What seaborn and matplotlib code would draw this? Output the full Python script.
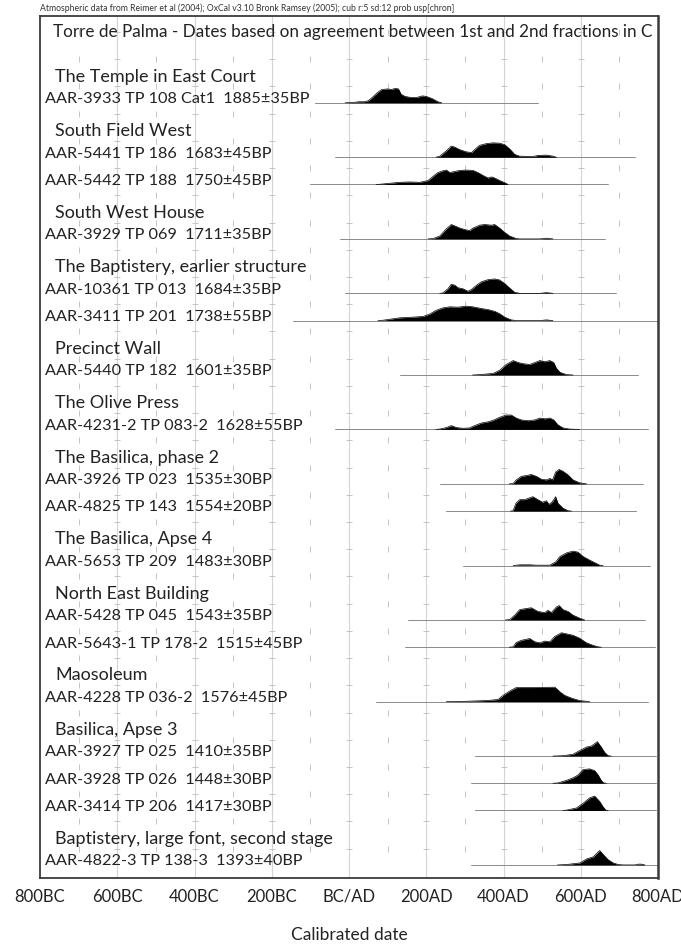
import numpy as np
import matplotlib.pyplot as plt
import seaborn as sns

# DATA - calibrated probability distributions (year AD, relative prob)
aar3933_yr = [-10, 15, 25, 40, 50, 60, 75, 85, 100, 110, 120, 128, 135, 145, 160, 175, 190, 200, 215, 230, 240]
aar3933_p = [0, 0.5, 1, 1, 2, 5, 10, 12.5, 13, 12.5, 13.5, 13, 8, 6, 5, 5, 6.5, 6, 4, 1, 0]

aar5441_yr = [225, 235, 252, 265, 274, 287, 304, 317, 325, 338, 356, 373, 390, 403, 416, 429, 442, 476, 489, 511, 528, 537]
aar5441_p = [0, 3, 18, 31, 28, 21, 15, 13, 21, 33, 38, 40, 39, 35, 23, 8, 3, 2, 5, 6, 3, 0]

aar5442_yr = [70, 84, 131, 157, 183, 205, 218, 230, 243, 252, 261, 269, 287, 304, 321, 334, 347, 360, 369, 377, 390, 403, 412]
aar5442_p = [0, 1, 6, 7, 6, 11, 23, 33, 38, 40, 33, 35, 39, 40, 39, 33, 25, 18, 21, 18, 11, 5, 0]

aar3929_yr = [205, 218, 235, 252, 265, 274, 287, 300, 312, 321, 338, 351, 369, 377, 390, 403, 416, 433, 442, 495, 511, 528]
aar3929_p = [0, 1, 8, 28, 40, 36, 30, 26, 23, 30, 38, 40, 38, 40, 30, 18, 8, 1, 0, 0, 2, 0]

aar10361_yr = [235, 243, 256, 265, 274, 282, 295, 308, 317, 330, 343, 360, 377, 390, 403, 416, 429, 442, 494, 511, 528]
aar10361_p = [0, 1, 13, 26, 23, 16, 13, 6, 11, 23, 33, 39, 41, 38, 28, 15, 3, 0, 0, 2, 0]

aar3411_yr = [75, 88, 131, 166, 192, 209, 226, 243, 261, 282, 304, 321, 343, 360, 377, 390, 403, 420, 433, 494, 511, 528]
aar3411_p = [0, 1, 8, 10, 12, 19, 30, 37, 40, 39, 42, 40, 35, 32, 27, 20, 10, 2, 0, 0, 2, 0]

aar5440_yr = [320, 338, 373, 390, 407, 425, 438, 451, 468, 481, 494, 507, 520, 530, 537, 546, 563, 580]
aar5440_p = [0, 1, 4, 12, 27, 37, 32, 29, 27, 32, 37, 34, 37, 32, 17, 7, 1, 0]

aar42312_yr = [225, 235, 252, 265, 278, 295, 312, 325, 343, 360, 373, 390, 407, 420, 433, 446, 464, 481, 494, 507, 520, 530, 541, 554, 571, 597]
aar42312_p = [0, 1, 5, 10, 5, 3, 4, 10, 17, 20, 24, 32, 38, 38, 30, 25, 23, 25, 30, 28, 30, 25, 12, 4, 1, 0]

aar3926_yr = [415, 425, 433, 446, 459, 472, 485, 498, 511, 520, 527, 535, 544, 554, 567, 580, 597, 615]
aar3926_p = [0, 1, 11, 21, 23, 26, 21, 13, 11, 15, 11, 33, 40, 35, 25, 11, 3, 0]

aar4825_yr = [418, 425, 432, 442, 455, 468, 476, 489, 501, 511, 518, 527, 535, 541, 554, 567, 576]
aar4825_p = [0, 1, 21, 31, 31, 36, 39, 31, 24, 28, 18, 26, 39, 21, 8, 1, 0]

aar5653_yr = [425, 442, 468, 485, 520, 535, 546, 563, 580, 593, 606, 623, 636, 649, 658]
aar5653_p = [0, 2, 2, 1, 1, 10, 25, 35, 40, 37, 25, 15, 8, 1, 0]

aar5428_yr = [405, 416, 429, 442, 459, 472, 489, 507, 515, 524, 537, 544, 554, 567, 580, 597, 610]
aar5428_p = [0, 1, 13, 28, 31, 33, 23, 20, 26, 20, 35, 39, 28, 23, 13, 5, 0]

aar56431_yr = [415, 425, 433, 446, 468, 481, 494, 507, 520, 533, 550, 563, 580, 597, 615, 632, 645, 653]
aar56431_p = [0, 1, 13, 19, 24, 15, 12, 17, 15, 30, 40, 37, 33, 25, 12, 5, 1, 0]

aar4228_yr = [252, 304, 356, 386, 399, 416, 433, 476, 533, 546, 558, 576, 597, 623]
aar4228_p = [0, 1, 3, 6, 18, 30, 40, 40, 41, 28, 18, 10, 3, 0]

aar3927_yr = [528, 554, 580, 597, 615, 628, 643, 653, 662, 671, 679]
aar3927_p = [0, 1, 5, 15, 25, 28, 40, 25, 10, 1, 0]

aar3928_yr = [528, 541, 563, 580, 593, 606, 623, 636, 645, 653, 659, 666]
aar3928_p = [0, 1, 8, 15, 23, 38, 40, 35, 23, 8, 1, 0]

aar3414_yr = [554, 563, 589, 606, 623, 636, 649, 658, 665, 671]
aar3414_p = [0, 1, 7, 20, 35, 40, 25, 10, 1, 0]

aar48223_yr = [540, 563, 598, 615, 632, 649, 658, 671, 684, 697, 710, 740, 749, 757, 766]
aar48223_p = [0, 1, 5, 15, 20, 36, 26, 13, 5, 1, 0, 0, 2, 2, 0]

# LABELS
group_labels = ["The Temple in East Court", "South Field West", "South West House",
                "The Baptistery, earlier structure", "Precinct Wall", "The Olive Press",
                "The Basilica, phase 2", "The Basilica, Apse 4", "North East Building",
                "Maosoleum", "Basilica, Apse 3", "Baptistery, large font, second stage"]
group_rows = [1, 3, 6, 8, 11, 13, 15, 18, 20, 23, 25, 29]

date_labels = ["AAR-3933 TP 108 Cat1  1885±35BP", "AAR-5441 TP 186  1683±45BP",
               "AAR-5442 TP 188  1750±45BP", "AAR-3929 TP 069  1711±35BP",
               "AAR-10361 TP 013  1684±35BP", "AAR-3411 TP 201  1738±55BP",
               "AAR-5440 TP 182  1601±35BP", "AAR-4231-2 TP 083-2  1628±55BP",
               "AAR-3926 TP 023  1535±30BP", "AAR-4825 TP 143  1554±20BP",
               "AAR-5653 TP 209  1483±30BP", "AAR-5428 TP 045  1543±35BP",
               "AAR-5643-1 TP 178-2  1515±45BP", "AAR-4228 TP 036-2  1576±45BP",
               "AAR-3927 TP 025  1410±35BP", "AAR-3928 TP 026  1448±30BP",
               "AAR-3414 TP 206  1417±30BP", "AAR-4822-3 TP 138-3  1393±40BP"]
date_rows = [2, 4, 5, 7, 9, 10, 12, 14, 16, 17, 19, 21, 22, 24, 26, 27, 28, 30]
date_years = [aar3933_yr, aar5441_yr, aar5442_yr, aar3929_yr, aar10361_yr, aar3411_yr,
              aar5440_yr, aar42312_yr, aar3926_yr, aar4825_yr, aar5653_yr, aar5428_yr,
              aar56431_yr, aar4228_yr, aar3927_yr, aar3928_yr, aar3414_yr, aar48223_yr]
date_probs = [aar3933_p, aar5441_p, aar5442_p, aar3929_p, aar10361_p, aar3411_p,
              aar5440_p, aar42312_p, aar3926_p, aar4825_p, aar5653_p, aar5428_p,
              aar56431_p, aar4228_p, aar3927_p, aar3928_p, aar3414_p, aar48223_p]
# extent of the grey line under each distribution
line_start = [-89, -37, -102, -24, -11, -145, 131, -37, 235, 252, 295, 153, 144, 69, 325, 317, 325, 315]
line_end = [489, 740, 671, 662, 692, 800, 748, 774, 761, 744, 779, 766, 792, 774, 796, 796, 796, 800]

tick_pos = [-800, -600, -400, -200, 0, 200, 400, 600, 800]
tick_labels = ["800BC", "600BC", "400BC", "200BC", "BC/AD", "200AD", "400AD", "600AD", "800AD"]

# PLOT
sns.set_theme(style="white")
plt.rcParams['font.family'] = ['Lato', 'DejaVu Sans']

fig = plt.figure(figsize=(6.81, 9.45), dpi=100)
ax = fig.add_axes([40 / 681, 66 / 945, 618 / 681, 862 / 945])

# grid lines and the little row marks
ax.vlines(tick_pos[1:-1], -2, 32, color='#d4d4d4', lw=0.8, zorder=0)
for r in range(31):
    ax.plot(np.arange(-700, 701, 200), [r - 0.6] * 8, ls='none', marker='|', ms=4,
            mew=0.7, color='#c4c4c4', zorder=0)
    ax.plot(tick_pos[1:-1], [r - 0.6] * 7, ls='none', marker='_', ms=4,
            mew=0.7, color='#c4c4c4', zorder=0)

# distributions
for lab, r, yr, p, lo, hi in zip(date_labels, date_rows, date_years, date_probs, line_start, line_end):
    ax.plot([lo, hi], [r, r], color='#8a8a8a', lw=0.7, zorder=1)
    h = r - 0.53 * np.array(p) / max(p)
    ax.fill_between(yr, r, h, color='black', lw=0, zorder=2)
    sns.lineplot(x=yr, y=h, color='black', lw=0.5, ax=ax, zorder=2)
    ax.text(5 / 618, r - 0.17, lab, transform=ax.get_yaxis_transform(),
            fontsize=11.7, va='center', ha='left', color='#222222')

for lab, r in zip(group_labels, group_rows):
    ax.text(15 / 618, r, lab, transform=ax.get_yaxis_transform(),
            fontsize=13, va='center', ha='left', color='#222222')

ax.text(13 / 618, 0.983, "Torre de Palma - Dates based on agreement between 1st and 2nd fractions in C",
        transform=ax.transAxes, fontsize=12.3, va='center', ha='left', color='#222222')
fig.text(40 / 681, 1 - 8 / 945,
         "Atmospheric data from Reimer et al (2004); OxCal v3.10 Bronk Ramsey (2005); cub r:5 sd:12 prob usp[chron]",
         fontsize=6.2, va='center', ha='left', color='#333333')

ax.set_xlim(-800, 800)
ax.set_ylim(30.48, -1.19)
ax.set_xticks(tick_pos)
ax.set_xticklabels(tick_labels, fontsize=12, color='#222222')
ax.set_yticks([])
ax.tick_params(axis='x', length=0, pad=7)
ax.set_xlabel("Calibrated date", fontsize=12.5, color='#222222', labelpad=16)
ax.set_ylabel("")
for s in ax.spines.values():
    s.set_color('#3a3a3a')
    s.set_linewidth(1.3)
ax.spines['right'].set_linewidth(1.8)

fig.savefig("out.png", dpi=100)
